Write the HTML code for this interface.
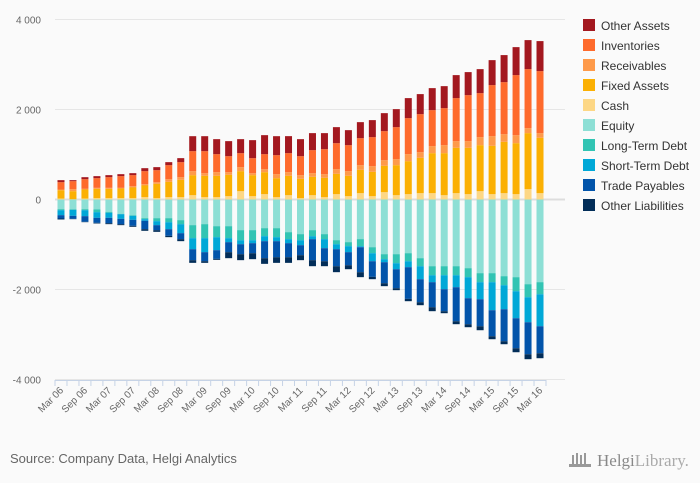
<!DOCTYPE html>
<html><head><meta charset="utf-8"><style>
html,body{margin:0;padding:0;background:#fafafa;}
body{width:700px;height:483px;overflow:hidden;font-family:"Liberation Sans",sans-serif;}
</style></head><body>
<svg id="chart" width="700" height="483" xmlns="http://www.w3.org/2000/svg" style="position:absolute;left:0;top:0">
<rect width="700" height="483" fill="#fafafa"/>
<g id="grid"></g>
<g id="bars"></g>
<g id="xaxis"></g>
<g id="legend"></g>
<text x="10" y="463" font-size="13" fill="#666">Source: Company Data, Helgi Analytics</text>
<g>
<g fill="#999"><rect x="572" y="455" width="2" height="10"/><rect x="576" y="453" width="2" height="12"/><rect x="580" y="455" width="2" height="10"/><rect x="584" y="453" width="2" height="12"/><rect x="569" y="464" width="22" height="3"/></g>
<text x="597" y="466" font-family="Liberation Serif, serif" font-size="17" fill="#888">Helgi<tspan fill="#aaa">Library.</tspan></text>
</g>
</svg>
<script>
const categories=["Mar 06","Jun 06","Sep 06","Dec 06","Mar 07","Jun 07","Sep 07","Dec 07","Mar 08","Jun 08","Sep 08","Dec 08","Mar 09","Jun 09","Sep 09","Dec 09","Mar 10","Jun 10","Sep 10","Dec 10","Mar 11","Jun 11","Sep 11","Dec 11","Mar 12","Jun 12","Sep 12","Dec 12","Mar 13","Jun 13","Sep 13","Dec 13","Mar 14","Jun 14","Sep 14","Dec 14","Mar 15","Jun 15","Sep 15","Dec 15","Mar 16"];
const cash=[22,7,22,30,30,30,30,52,30,52,52,96,52,52,74,185,74,119,52,96,30,96,52,119,74,141,74,163,96,119,141,141,96,141,119,185,119,141,119,230,141];
const fixedAssets=[185,178,200,207,207,215,237,259,318,341,385,445,474,474,474,445,467,488,422,430,429,408,430,451,452,518,541,585,667,733,785,889,934,1008,1030,1023,1074,1141,1133,1245,1230];
const receivables=[15,45,15,22,22,14,29,30,37,59,59,89,59,81,59,89,44,67,89,81,82,81,81,104,104,104,126,126,134,156,126,156,178,148,148,178,215,170,178,111,104];
const inventories=[163,177,215,215,237,260,245,289,267,311,334,444,489,401,356,311,334,334,422,423,422,512,556,578,578,600,645,645,711,800,845,800,822,956,1022,978,1134,1156,1334,1311,1378];
const otherAssets=[45,23,44,45,45,44,44,66,67,67,89,333,333,333,334,311,400,422,422,378,378,378,356,356,333,356,378,400,400,445,445,489,489,511,512,533,555,601,622,645,667];
const equity=[215,215,215,222,274,319,348,415,415,415,459,570,548,593,593,681,681,637,637,726,770,681,770,904,948,881,1060,1215,1215,1193,1304,1482,1482,1482,1526,1637,1637,1704,1726,1882,1837];
const longTermDebt=[22,15,22,59,22,7,15,22,66,89,89,289,311,244,266,223,223,178,200,155,134,134,111,89,89,156,133,111,200,178,178,200,200,200,200,200,200,200,312,289,268];
const shortTermDebt=[111,133,133,126,111,104,89,37,89,155,200,245,311,289,89,89,66,111,89,89,111,66,201,111,133,23,178,67,134,133,289,155,311,267,467,379,623,534,600,556,711];
const tradePayables=[74,67,126,112,119,118,133,185,111,148,133,244,200,193,222,222,223,378,356,312,222,467,289,378,290,555,348,467,422,704,511,556,489,756,578,600,578,711,667,711,600];
const otherLiabilities=[22,7,8,14,22,22,22,37,38,30,45,60,38,22,134,133,133,126,126,126,111,134,111,133,89,111,52,66,44,52,67,89,45,66,67,89,67,67,89,111,111];
const yTicks=[4000,2000,0,-2000,-4000];
const yTickLabels=["4 000","2 000","0","-2 000","-4 000"];
const legendLabels=["Other Assets","Inventories","Receivables","Fixed Assets","Cash","Equity","Long-Term Debt","Short-Term Debt","Trade Payables","Other Liabilities"];

const NS="http://www.w3.org/2000/svg";
const X0=55,X1=546,Y0=199.5,K=90/2000;
const bw=(X1-X0)/categories.length;
function xScale(i){return X0+bw*i+bw/2;}
function yScale(v){return Y0-v*K;}
function mk(t,a,p){const e=document.createElementNS(NS,t);for(const k in a)e.setAttribute(k,a[k]);p.appendChild(e);return e;}
const grid=document.getElementById('grid');
yTicks.forEach((t,i)=>{
  const l=mk('line',{x1:X0,x2:565,y1:yScale(t),y2:yScale(t),stroke:t===0?'#ddd':'#e6e6e6','stroke-width':t===0?2:1},grid);
  
  
  const tx=mk('text',{x:41,y:yScale(t)+4,'text-anchor':'end','font-size':10,fill:'#666'},grid);
  tx.textContent=yTickLabels[i];
  
  
});
const posSeries=[[cash,'#fdd785','cash'],[fixedAssets,'#fbb003','fixed-assets'],[receivables,'#fe9a4a','receivables'],[inventories,'#fe6a2c','inventories'],[otherAssets,'#a3181f','other-assets']];
const negSeries=[[equity,'#8ddfd5','equity'],[longTermDebt,'#32c4b3','long-term-debt'],[shortTermDebt,'#00a8d7','short-term-debt'],[tradePayables,'#0254aa','trade-payables'],[otherLiabilities,'#022d58','other-liabilities']];
const bars=document.getElementById('bars');
const w=7;
categories.forEach((c,i)=>{
  let cum=0;
  posSeries.forEach(s=>{const v=s[0][i];const r=mk('rect',{x:xScale(i)-w/2,y:yScale(cum+v),width:w,height:v*K,fill:s[1]},bars);
    
    
    cum+=v;});
  cum=0;
  negSeries.forEach(s=>{const v=s[0][i];const r=mk('rect',{x:xScale(i)-w/2,y:yScale(-cum),width:w,height:v*K,fill:s[1]},bars);
    
    
    cum+=v;});
});
const xa=document.getElementById('xaxis');
const ax=mk('line',{x1:X0,x2:X1,y1:380.5,y2:380.5,stroke:'#c6d3e6'},xa);


for(let i=0;i<=categories.length;i++){
  const t=mk('line',{x1:X0+bw*i,x2:X0+bw*i,y1:380,y2:386,stroke:'#c6d3e6'},xa);
  
  
}
categories.forEach((c,i)=>{
  if(i%2)return;
  const x=xScale(i)+3,y=391;
  const t=mk('text',{x:x,y:y,'text-anchor':'end','font-size':10,fill:'#666',transform:`rotate(-45 ${x} ${y})`},xa);
  t.textContent=c;
  
  
});
const lg=document.getElementById('legend');
const legendColors=['#a3181f','#fe6a2c','#fe9a4a','#fbb003','#fdd785','#8ddfd5','#32c4b3','#00a8d7','#0254aa','#022d58'];
legendLabels.forEach((l,i)=>{
  const g=mk('g',{},lg);
  
  
  mk('rect',{x:583,y:19+i*20,width:12,height:12,fill:legendColors[i]},g);
  const t=mk('text',{x:601,y:30+i*20,'font-size':12,fill:'#333'},g);
  t.textContent=l;
});
</script>
</body></html>
